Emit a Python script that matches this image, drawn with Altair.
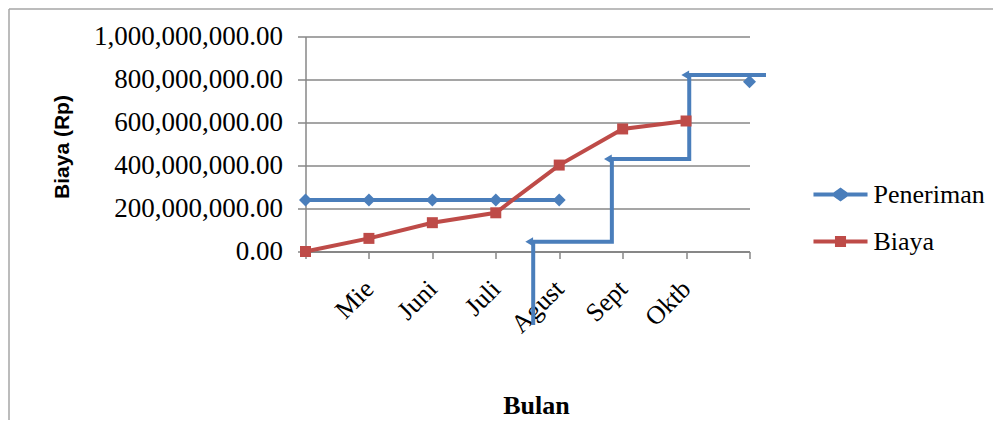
import json
import altair as alt
import pandas as pd

# ---- data ----
months = ["", "Mie", "Juni", "Juli", "Agust", "Sept", "Oktb", ""]
penerimaan = [240e6, 240e6, 240e6, 240e6, 240e6, None, None, 790e6]
penerimaan_seg = ["a", "a", "a", "a", "a", None, None, "b"]
biaya = [0, 61e6, 134e6, 180e6, 402e6, 570e6, 607e6, None]

step_x = [3.59, 3.59, 4.83, 4.83, 6.05, 6.05, 7.26]
step_y = [-342e6, 45.6e6, 45.6e6, 430e6, 430e6, 821e6, 821e6]
corner_x = [3.59, 4.83, 6.05]
corner_y = [45.6e6, 430e6, 821e6]

y_ticks = [0, 2e8, 4e8, 6e8, 8e8, 1e9]
series_names = ["Peneriman", "Biaya"]
colors = ["#4a7ebb", "#be4b48"]

BLUE, RED = colors
GRAY = "#878787"
SERIF = "Liberation Serif"
FS = 26

rows = []
for i, v in enumerate(penerimaan):
    if v is not None:
        rows.append({"idx": i, "series": "Peneriman", "value": v, "seg": "P" + penerimaan_seg[i]})
for i, v in enumerate(biaya):
    if v is not None:
        rows.append({"idx": i, "series": "Biaya", "value": v, "seg": "B"})
df = pd.DataFrame(rows)

step_df = pd.DataFrame({"idx": step_x, "value": step_y, "o": list(range(len(step_x)))})
corner_df = pd.DataFrame({"idx": corner_x, "value": corner_y})
legend_df = pd.DataFrame({"series": series_names, "idx": [0, 0], "value": [0, 0]})

xscale = alt.Scale(domain=[0, 7], nice=False, zero=False)
yscale = alt.Scale(domain=[0, 1e9], nice=False)

xaxis = alt.Axis(
    values=list(range(len(months))),
    labelExpr=json.dumps(months) + "[datum.value]",
    labelAngle=315, labelAlign="right", labelBaseline="middle",
    labelFont=SERIF, labelFontSize=FS, labelColor="black", labelPadding=26,
    labelFlush=False, labelOverlap=False, labelBound=False, labelLimit=0,
    grid=False, tickSize=7, tickColor=GRAY, tickWidth=1.5,
    domainColor=GRAY, domainWidth=2,
    title="Bulan", titleFont=SERIF, titleFontSize=FS, titleFontWeight="bold",
    titleColor="black", titleX=230.5, titleY=161.5, titleAlign="center",
    titleBaseline="alphabetic",
)
yaxis = alt.Axis(
    values=y_ticks, format=",.2f",
    labelFont=SERIF, labelFontSize=27, labelColor="black", labelPadding=15,
    labelOverlap=False, labelFlush=False, labelBound=False, labelLimit=0,
    tickSize=8, tickColor=GRAY, tickWidth=1.5,
    domainColor=GRAY, domainWidth=1.5,
    grid=True, gridColor=GRAY, gridWidth=1.5,
    title="Biaya (Rp)", titleFont="Liberation Sans", titleFontSize=21,
    titleFontWeight="bold", titleColor="black", titleAngle=270,
    titleX=-243.5, titleY=110, titleAlign="center", titleBaseline="middle",
)


def X(field="idx"):
    return alt.X(f"{field}:Q", scale=xscale, axis=xaxis)


def Y(field="value"):
    return alt.Y(f"{field}:Q", scale=yscale, axis=yaxis)


color_scale = alt.Scale(domain=series_names, range=colors)

diamond_path = ("M-3.86,-0.29L-1,-0.29L0,-1L1,-0.29L3.86,-0.29L3.86,0.29"
                "L1,0.29L0,1L-1,0.29L-3.86,0.29Z")
square_path = ("M-3.86,-0.29L-0.79,-0.29L-0.79,-0.79L0.79,-0.79L0.79,-0.29"
               "L3.86,-0.29L3.86,0.29L0.79,0.29L0.79,0.79L-0.79,0.79"
               "L-0.79,0.29L-3.86,0.29Z")
shape_scale = alt.Scale(domain=series_names, range=[diamond_path, square_path])

legend = alt.Legend(
    orient="none", legendX=522, legendY=145, title=None,
    labelFont=SERIF, labelFontSize=FS, labelColor="black", labelLimit=0,
    symbolSize=196, labelOffset=20, rowPadding=21,
    symbolOpacity=1, symbolStrokeWidth=0, padding=0,
)

line_p = alt.Chart(df).transform_filter(alt.datum.series == "Peneriman").mark_line(
    strokeWidth=4, color=BLUE, clip=False
).encode(x=X(), y=Y(), detail="seg:N", order="idx:Q")
line_b = alt.Chart(df).transform_filter(alt.datum.series == "Biaya").mark_line(
    strokeWidth=4, color=RED, clip=False
).encode(x=X(), y=Y(), order="idx:Q")
diamonds = alt.Chart(df).transform_filter(alt.datum.series == "Peneriman").mark_point(
    shape="diamond", filled=True, size=169, opacity=1, color=BLUE, clip=False
).encode(x=X(), y=Y())
squares = alt.Chart(df).transform_filter(alt.datum.series == "Biaya").mark_point(
    shape="square", filled=True, size=121, opacity=1, color=RED, clip=False
).encode(x=X(), y=Y())

step = alt.Chart(step_df).mark_line(strokeWidth=4, color=BLUE, clip=False).encode(
    x=X(), y=Y(), order="o:Q"
)
corners = alt.Chart(corner_df).mark_point(
    shape="triangle-left", filled=True, size=80, opacity=1, color=BLUE,
    xOffset=-4, clip=False
).encode(x=X(), y=Y())

legend_layer = alt.Chart(legend_df).mark_point(filled=True, opacity=0, clip=False).encode(
    x=X(), y=Y(),
    color=alt.Color("series:N", scale=color_scale, legend=legend),
    shape=alt.Shape("series:N", scale=shape_scale, legend=legend),
)

frame_data = alt.Data(values=[{"k": 1}])
frame_top = alt.Chart(frame_data).mark_rule(color="#a6a6a6", strokeWidth=1.5, clip=False).encode(
    x=alt.value(-296.5), x2=alt.value(690), y=alt.value(-27.5)
)
frame_left = alt.Chart(frame_data).mark_rule(color="#a6a6a6", strokeWidth=1.5, clip=False).encode(
    x=alt.value(-296.5), y=alt.value(-27.5), y2=alt.value(390)
)

chart = alt.layer(
    frame_top, frame_left, line_p, line_b, step, corners, diamonds, squares, legend_layer
).properties(
    width=444, height=215,
    autosize=alt.AutoSizeParams(type="none"),
    padding={"left": 297.5, "top": 28.5, "right": 243.5, "bottom": 168.5},
    background="white",
).configure_view(stroke=None)

chart.save("out.html", embed_options={"renderer": "svg", "actions": False})
